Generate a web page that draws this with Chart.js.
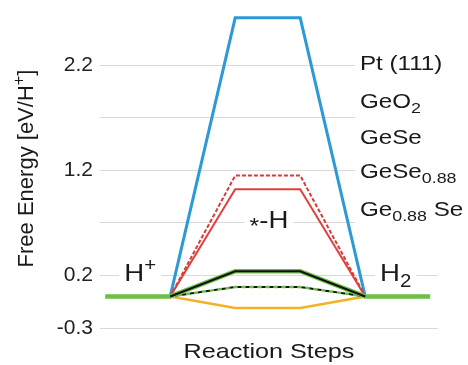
<!DOCTYPE html>
<html>
<head>
<meta charset="utf-8">
<script src="https://cdn.jsdelivr.net/npm/chart.js@4.4.1/dist/chart.umd.min.js"></script>
<style>
  html, body { margin: 0; padding: 0; background: #fff; }
  #wrap { width: 468px; height: 365px; }
</style>
</head>
<body>
<div id="wrap"><canvas id="chart" width="468" height="365"></canvas></div>
<script>
// reaction coordinate: H+ , H+ (start), *-H, *-H, H2 (end), H2
const steps = [0, 1, 2, 3, 4, 5];

// free energies (eV/H+)
const blueLine = [null, 0, 2.65, 2.65, 0, null];
const redDashed = [null, 0, 1.15, 1.15, 0, null];
const redSolid = [null, 0, 1.02, 1.02, 0, null];
const greenSolid = [0, 0, 0.24, 0.24, 0, 0];
const blackSolid = [null, 0, 0.24, 0.24, 0, null];
const greenDashed = [null, 0, 0.09, 0.09, 0, null];
const blackDashed = [null, 0, 0.09, 0.09, 0, null];
const orangeLine = [null, 0, -0.11, -0.11, 0, null];

// y grid every 0.5, only some of them labelled
const gridValues = [-0.3, 0.2, 0.7, 1.2, 1.7, 2.2];
const tickLabels = ["-0.3", "0.2", "1.2", "2.2"];

const materials = [
    [["Pt (111)", ""]],
    [["GeO", ""], ["2", "sub"]],
    [["GeSe", ""]],
    [["GeSe", ""], ["0.88", "sub"]],
    [["Ge", ""], ["0.88", "sub"], [" Se", ""]],
];
const materialY = [2.23, 1.86, 1.52, 1.2, 0.84];

const FONT = "'Liberation Sans', Arial, sans-serif";
const SX = 1.15; // the original text is a bit wide

function pts(values) {
    return steps.map((s, i) => ({ x: s, y: values[i] }));
}

function line(label, values, color, width, dash, order, dashOffset) {
    return {
        label: label,
        data: pts(values),
        borderColor: color,
        borderWidth: width,
        borderDash: dash || [],
        borderDashOffset: dashOffset || 0,
        pointRadius: 0,
        fill: false,
        tension: 0,
        spanGaps: false,
        order: order,
    };
}

function partSize(m, size) {
    if (m === "star") return size * 0.9;
    return m ? size * 0.74 : size;
}

function richWidth(ctx, parts, size, sx) {
    let w = 0;
    parts.forEach(([t, m]) => {
        ctx.font = partSize(m, size) + "px " + FONT;
        w += ctx.measureText(t).width;
    });
    return w * sx;
}

function drawRich(ctx, parts, x, baseline, size, sx) {
    let cx = x;
    parts.forEach(([t, m]) => {
        const s = partSize(m, size);
        ctx.font = s + "px " + FONT;
        let dy = 0;
        if (m === "sub") dy = size * 0.24;
        if (m === "sup") dy = -size * 0.4;
        if (m === "star") dy = size * 0.2;
        ctx.save();
        ctx.translate(cx, baseline + dy);
        ctx.scale(sx, 1);
        ctx.fillText(t, 0, 0);
        ctx.restore();
        cx += ctx.measureText(t).width * sx;
    });
}

// label centred on a data point, with white behind it to break the grid line
function labelAt(chart, parts, xv, yv, size) {
    const ctx = chart.ctx;
    const xs = chart.scales.x, ys = chart.scales.y;
    const w = richWidth(ctx, parts, size, SX);
    const cx = xs.getPixelForValue(xv);
    const cy = ys.getPixelForValue(yv);
    ctx.fillStyle = "#fff";
    ctx.fillRect(cx - w / 2 - 5, cy - size * 0.55, w + 10, size * 1.1);
    ctx.fillStyle = "#1a1a1a";
    drawRich(ctx, parts, cx - w / 2, cy + size * 0.36, size, SX);
}

const annotations = {
    id: "annotations",
    beforeDatasetsDraw(chart) {
        const ctx = chart.ctx;
        const xs = chart.scales.x, ys = chart.scales.y;
        const area = chart.chartArea;
        ctx.save();
        ctx.textAlign = "left";
        ctx.textBaseline = "alphabetic";

        // material names on the right, on a white panel
        const left = xs.getPixelForValue(3.92);
        ctx.fillStyle = "#fff";
        ctx.fillRect(xs.getPixelForValue(3.85), ys.getPixelForValue(2.42),
            chart.width, ys.getPixelForValue(0.65) - ys.getPixelForValue(2.42));
        ctx.fillStyle = "#1a1a1a";
        materials.forEach((parts, i) => {
            drawRich(ctx, parts, left, ys.getPixelForValue(materialY[i]) + 21 * 0.36, 21, SX);
        });

        labelAt(chart, [["H", ""], ["+", "sup"]], 0.54, 0.23, 24);
        labelAt(chart, [["H", ""], ["2", "sub"]], 4.47, 0.23, 24);
        labelAt(chart, [["*", "star"], ["-H", ""]], 2.52, 0.735, 24);

        // x axis title
        const xt = [["Reaction Steps", ""]];
        const xw = richWidth(ctx, xt, 21, 1.2);
        drawRich(ctx, xt, (area.left + area.right) / 2 - xw / 2, 358, 21, 1.2);

        // y axis title with superscript
        ctx.translate(25, (area.top + area.bottom) / 2 + 2);
        ctx.rotate(-Math.PI / 2);
        const title = [["Free Energy [eV/H", ""], ["+", "sup"], ["]", ""]];
        const tw = richWidth(ctx, title, 22, 1);
        drawRich(ctx, title, -tw / 2, 22 * 0.36, 22, 1);
        ctx.restore();
    },
};

new Chart(document.getElementById("chart"), {
    type: "line",
    data: {
        datasets: [
            line("black solid", blackSolid, "#111", 2, null, 0),
            line("green solid", greenSolid, "#6cbf45", 4.5, null, 1),
            line("black dashed", blackDashed, "#111", 2, [4, 4], 2, 4),
            line("green dashed", greenDashed, "#6cbf45", 2.5, [4, 4], 3),
            line("orange", orangeLine, "#f2b224", 2.5, null, 4),
            line("red solid", redSolid, "#e0403c", 2, null, 5),
            line("red dashed", redDashed, "#d83a36", 2, [4, 2], 6),
            line("blue", blueLine, "#2c9ad6", 3, null, 7),
        ],
    },
    options: {
        responsive: false,
        animation: false,
        layout: { padding: { top: 5, right: 30, left: 0, bottom: 0 } },
        plugins: {
            legend: { display: false },
            tooltip: { enabled: false },
        },
        scales: {
            x: {
                type: "linear",
                min: -0.08,
                max: 5.12,
                grid: { display: false },
                border: { display: false },
                ticks: { display: false },
                afterFit(scale) {
                    scale.height = 37;
                },
            },
            y: {
                type: "linear",
                min: -0.3,
                max: 2.772,
                afterBuildTicks(scale) {
                    scale.ticks = gridValues.map((v) => ({ value: v }));
                },
                afterFit(scale) {
                    scale.width = 100;
                    scale.paddingTop = 0;
                    scale.paddingBottom = 0;
                },
                grid: { color: "#d9d9d9", lineWidth: 1, drawTicks: false },
                border: { display: false },
                ticks: {
                    padding: 7,
                    color: "#222",
                    font: { family: FONT, size: 21 },
                    callback: (v) => {
                        const s = Number(v).toFixed(1);
                        return tickLabels.includes(s) ? s : "";
                    },
                },
            },
        },
    },
    plugins: [annotations],
});
</script>
</body>
</html>
